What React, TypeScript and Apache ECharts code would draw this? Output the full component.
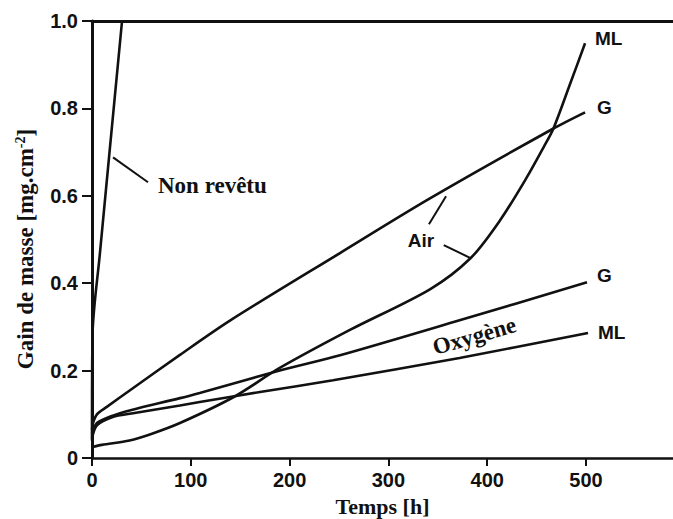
import React, { useEffect, useRef } from "react";
import * as echarts from "echarts";

const xTicks = [0, 100, 200, 300, 400, 500];
const yTicks = [0, 0.2, 0.4, 0.6, 0.8, 1.0];
const X_MAX = 588;

const nonRevetu: [number, number][] = [[0, 0.04], [0.5, 0.28], [8, 0.468], [30.4, 1.0]];
const airG: [number, number][] = [
  [0, 0.065], [1, 0.08], [5, 0.1], [15, 0.117], [38.5, 0.155], [89, 0.236], [140, 0.315],
  [251, 0.469], [342, 0.594], [467, 0.754], [499, 0.791],
];
const airML: [number, number][] = [
  [0, 0.025], [10, 0.03], [38, 0.04], [60, 0.055], [89, 0.08], [143, 0.139], [190, 0.206],
  [261, 0.293], [342, 0.386], [383, 0.457], [413, 0.544], [440, 0.642], [457, 0.711],
  [467, 0.754], [484, 0.857], [499, 0.949],
];
const oxyG: [number, number][] = [
  [0, 0.055], [5, 0.08], [21, 0.097], [40, 0.11], [89, 0.137], [109, 0.149], [190, 0.2],
  [251, 0.235], [372, 0.315], [501, 0.402],
];
const oxyML: [number, number][] = [
  [0, 0.045], [5, 0.075], [21, 0.094], [40, 0.102], [89, 0.12], [109, 0.128], [170, 0.151],
  [244, 0.178], [372, 0.229], [502, 0.286],
];

// annotation texts, in data coordinates
const sansLabels: { text: string; at: [number, number] }[] = [
  { text: "ML", at: [509, 0.959] },
  { text: "G", at: [511, 0.801] },
  { text: "G", at: [511, 0.417] },
  { text: "ML", at: [512, 0.287] },
];
const airLabel = { text: "Air", at: [333, 0.497] as [number, number] };
const nonRevetuLabel = { text: "Non revêtu", at: [66.8, 0.624] as [number, number] };
const oxyLabel = { text: "Oxygène", at: [387, 0.279] as [number, number] };
const leaders: [number, number][][] = [
  [[21.3, 0.688], [56.7, 0.631]],
  [[341, 0.535], [358.3, 0.599]],
  [[356, 0.487], [383.6, 0.457]],
];

const INK = "#111";
const SANS = "'Liberation Sans', Arial, sans-serif";
const SERIF = "'Liberation Serif', 'Times New Roman', serif";

export default function App() {
  const ref = useRef<HTMLDivElement>(null);
  useEffect(() => {
    if (!ref.current) return;
    const chart = echarts.init(ref.current, undefined, { renderer: "svg" });
    const lineSeries = (name: string, data: [number, number][]) => ({
      name,
      type: "line",
      data,
      xAxisIndex: 0,
      yAxisIndex: 0,
      showSymbol: false,
      symbol: "none",
      smooth: 0.3,
      lineStyle: { color: INK, width: 2.6 },
      z: 3,
    });
    chart.setOption({
      animation: false,
      backgroundColor: "#fff",
      grid: { left: 92, right: 0, top: 21, bottom: 61, containLabel: false, outerBoundsMode: "none" },
      xAxis: [
        {
          type: "value",
          min: 0,
          max: X_MAX,
          interval: 100,
          position: "bottom",
          name: "Temps [h]",
          nameLocation: "middle",
          nameGap: 37,
          nameTextStyle: { fontFamily: SERIF, fontWeight: "bold", fontSize: 22, color: INK },
          axisLine: { show: true, onZero: false, lineStyle: { color: INK, width: 2.5 } },
          axisTick: { show: true, inside: false, length: 8, lineStyle: { color: INK, width: 2 }, customValues: xTicks },
          axisLabel: {
            show: true,
            margin: 12,
            customValues: xTicks,
            fontFamily: SANS,
            fontWeight: "bold",
            fontSize: 20,
            color: INK,
            formatter: (v: number) => String(v),
          },
          splitLine: { show: false },
        },
        {
          type: "value",
          min: 0,
          max: X_MAX,
          position: "top",
          axisLine: { show: true, onZero: false, lineStyle: { color: INK, width: 3 } },
          axisTick: { show: false },
          axisLabel: { show: false },
          splitLine: { show: false },
        },
      ],
      yAxis: {
        type: "value",
        min: 0,
        max: 1,
        interval: 0.2,
        axisLine: { show: true, onZero: false, lineStyle: { color: INK, width: 3 } },
        axisTick: { show: true, inside: false, length: 10, lineStyle: { color: INK, width: 2 } },
        axisLabel: {
          margin: 14,
          fontFamily: SANS,
          fontWeight: "bold",
          fontSize: 20,
          color: INK,
          formatter: (v: number) => (v === 0 ? "0" : v.toFixed(1)),
        },
        splitLine: { show: false },
      },
      series: [
        lineSeries("Non revêtu", nonRevetu),
        lineSeries("Air G", airG),
        lineSeries("Air ML", airML),
        lineSeries("Oxygène G", oxyG),
        lineSeries("Oxygène ML", oxyML),
      ],
    });

    const px = (p: [number, number]) =>
      chart.convertToPixel({ xAxisIndex: 0, yAxisIndex: 0 }, p) as number[];

    const graphics: any[] = [];
    sansLabels.forEach((l) => {
      const [x, y] = px(l.at);
      graphics.push({
        type: "text",
        x,
        y,
        style: { text: l.text, fontFamily: SANS, fontWeight: "bold", fontSize: 19, fill: INK, align: "left", verticalAlign: "middle" },
      });
    });
    {
      const [x, y] = px(airLabel.at);
      graphics.push({
        type: "text",
        x,
        y,
        style: { text: airLabel.text, fontFamily: SANS, fontWeight: "bold", fontSize: 19, fill: INK, align: "center", verticalAlign: "middle" },
      });
    }
    {
      const [x, y] = px(nonRevetuLabel.at);
      graphics.push({
        type: "text",
        x,
        y,
        style: { text: nonRevetuLabel.text, fontFamily: SERIF, fontWeight: "bold", fontSize: 23, fill: INK, align: "left", verticalAlign: "middle" },
      });
    }
    {
      const [x, y] = px(oxyLabel.at);
      graphics.push({
        type: "text",
        x,
        y,
        rotation: (16 * Math.PI) / 180,
        style: { text: oxyLabel.text, fontFamily: SERIF, fontWeight: "bold", fontSize: 23, fill: INK, align: "center", verticalAlign: "middle" },
      });
    }
    leaders.forEach((seg) => {
      const [x1, y1] = px(seg[0] as [number, number]);
      const [x2, y2] = px(seg[1] as [number, number]);
      graphics.push({
        type: "line",
        shape: { x1, y1, x2, y2 },
        style: { stroke: INK, lineWidth: 2 },
      });
    });
    // y axis title
    graphics.push({
      type: "text",
      x: 25,
      y: 249,
      rotation: Math.PI / 2,
      style: {
        text: "{a|Gain de masse [mg.cm}{s|-2}{a|]}",
        align: "center",
        verticalAlign: "middle",
        fill: INK,
        rich: {
          a: { fontFamily: SERIF, fontWeight: "bold", fontSize: 23, fill: INK, color: INK },
          s: { fontFamily: SERIF, fontWeight: "bold", fontSize: 14, fill: INK, color: INK, verticalAlign: "top" },
        },
      },
    });
    chart.setOption({ graphic: graphics });

    return () => chart.dispose();
  }, []);
  return (
    <div
      ref={ref}
      style={{ position: "fixed", left: 0, top: 0, width: 673, height: 519, background: "#fff" }}
    />
  );
}
